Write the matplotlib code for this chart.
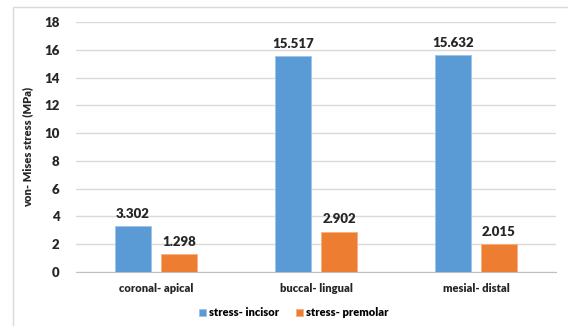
import matplotlib.pyplot as plt
import numpy as np
from matplotlib.patches import Rectangle

# Datos: tensión de von Mises por dirección
categories = ["coronal- apical", "buccal- lingual", "mesial- distal"]
incisor = [3.302, 15.517, 15.632]
premolar = [1.298, 2.902, 2.015]
series_names = ["stress- incisor", "stress- premolar"]
yticks = np.arange(0, 19, 2)

plt.rcParams['font.family'] = ['Lato', 'DejaVu Sans']
plt.rcParams['font.weight'] = 'bold'
plt.rcParams['axes.labelweight'] = 'bold'

fig = plt.figure(figsize=(5.68, 3.26), dpi=100)
ax = fig.add_axes([76/568, 1 - 272/326, 480/568, 250/326])

x = np.arange(len(categories))
w = 0.225
off = (w + 0.0625) / 2
b1 = ax.bar(x - off, incisor, w, color="#5B9BD5", edgecolor="#9DC3E6", linewidth=0.6, zorder=3, label=series_names[0])
b2 = ax.bar(x + off, premolar, w, color="#ED7D31", edgecolor="#F4B183", linewidth=0.6, zorder=3, label=series_names[1])

for bars, vals in ((b1, incisor), (b2, premolar)):
    for r, v in zip(bars, vals):
        ax.text(r.get_x() + r.get_width() / 2, v + 0.45, f"{v:.3f}",
                ha="center", va="bottom", fontsize=9.5, fontweight="heavy", color="#262626")

ax.set_xlim(-0.5, 2.5)
ax.set_ylim(0, 18)
ax.set_yticks(yticks)
ax.set_yticklabels([str(t) for t in yticks], fontsize=9.5, color="#262626", fontweight="heavy")
ax.set_xticks(x)
ax.set_xticklabels(categories, fontsize=8, color="#262626", fontweight="heavy")
ax.tick_params(axis='y', length=0, pad=12)
ax.tick_params(axis='x', length=0, pad=8)
ax.grid(axis='y', color="#D9D9D9", linewidth=1, zorder=0)
for s in ("top", "right", "left"):
    ax.spines[s].set_visible(False)
ax.spines["bottom"].set_color("#BFBFBF")
ax.set_ylabel("von- Mises stress (MPa)", fontsize=8, color="#262626", labelpad=8, fontweight="heavy")

fig.legend(handles=[b1, b2], labels=series_names, loc="center", bbox_to_anchor=(294/568, 1 - 313/326),
           ncol=2, frameon=False, prop={'size': 8, 'weight': 'heavy'}, handlelength=0.6, handleheight=0.6,
           handletextpad=0.3, columnspacing=1.5)

# marco del gráfico
fig.patches.append(Rectangle((13/568, -0.05), 1.0, 1 - 7/326 + 0.05, transform=fig.transFigure,
                             fill=False, edgecolor="#D9D9D9", linewidth=1))

fig.savefig("out.png", dpi=100)
